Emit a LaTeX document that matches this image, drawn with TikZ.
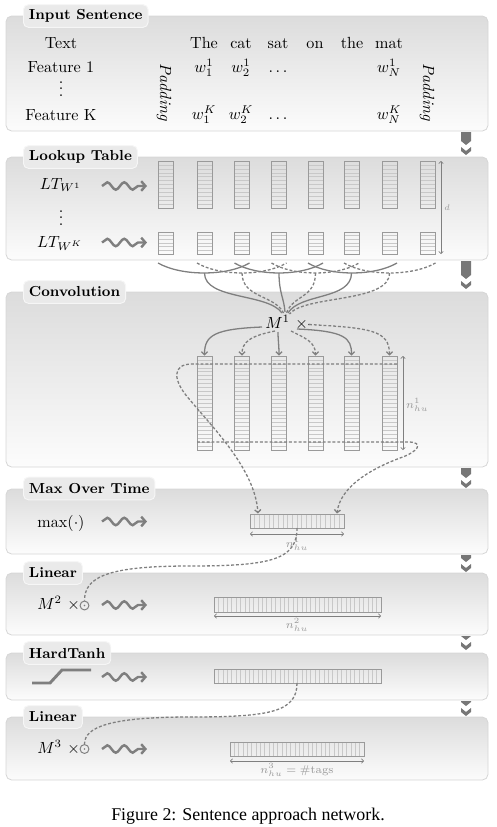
\documentclass[tikz,border=0pt]{standalone}
\usepackage{fontspec}
\newfontfamily\capfont{Liberation Serif}
\usetikzlibrary{decorations.pathmorphing,arrows.meta}
\definecolor{lgray}{HTML}{7F7F7F}
\definecolor{ggray}{HTML}{C8C8C8}
\definecolor{bgray}{HTML}{9A9A9A}
\definecolor{ptop}{HTML}{DCDCDC}
\definecolor{pbot}{HTML}{FCFCFC}
\definecolor{pborder}{HTML}{D6D6D6}
\definecolor{tfill}{HTML}{EAEAEA}
\definecolor{tborder}{HTML}{F6F6F6}
\definecolor{agray}{HTML}{777777}
\definecolor{labgray}{HTML}{9A9A9A}
\tikzset{
  panel/.style={draw=pborder, line width=0.5pt, rounded corners=3.5pt, top color=ptop, bottom color=pbot},
  tabnode/.style={draw=tborder, line width=0.6pt, fill=tfill, rounded corners=3pt, font=\small\bfseries, inner xsep=3.4pt, inner ysep=0pt, minimum height=14pt, anchor=west},
  txt/.style={inner sep=0pt},
  wavy/.style={draw=lgray, line width=1.5pt, decorate, decoration={snake, segment length=10.5pt, amplitude=2.3pt, post length=5.5pt}, -{Straight Barb[length=2.6pt,width=6pt]}},
  boxline/.style={draw=bgray, line width=0.5pt},
  gridline/.style={draw=ggray, line width=0.3pt},
  conn/.style={draw=lgray, line width=0.8pt},
  dconn/.style={conn, dash pattern=on 1.8pt off 1.2pt},
  tipped/.style={-{Straight Barb[length=1.8pt,width=3.8pt]}},
  dimline/.style={draw=lgray, line width=0.4pt, {Straight Barb[length=1.3pt,width=2.8pt]}-{Straight Barb[length=1.3pt,width=2.8pt]}},
  dimlab/.style={font=\scriptsize, text=labgray, inner sep=0.5pt},
  bigarrow/.style={fill=agray, draw=none},
  odot/.style={circle, draw=lgray, line width=0.6pt, minimum size=5.5pt, inner sep=0pt,
    path picture={\fill[lgray] (path picture bounding box.center) circle (0.6pt);}},
  htanh/.style={draw=lgray, line width=1.8pt},
}
\newcommand{\vcolumn}[4]{%
  \pgfmathsetmacro{\vst}{(#3-#2)/#4}%
  \pgfmathtruncatemacro{\vlast}{#4-1}%
  \foreach \k in {1,...,\vlast}{\draw[gridline] ({#1-7.5},{#2+\k*\vst}) -- ({#1+7.5},{#2+\k*\vst});}
  \draw[boxline] ({#1-7.5},#2) rectangle ({#1+7.5},#3);
}
\newcommand{\hcells}[5]{%
  \pgfmathsetmacro{\hst}{(#2-#1)/#5}%
  \pgfmathtruncatemacro{\hlast}{#5-1}%
  \foreach \k in {1,...,\hlast}{\draw[gridline] ({#1+\k*\hst},#3) -- ({#1+\k*\hst},#4);}
  \draw[boxline] (#1,#3) rectangle (#2,#4);
}
\newcommand{\bigdown}[2]{%
  \fill[bigarrow] (461,#1) -- (471,#1) -- (471,{#2-14}) -- (466,{#2-10}) -- (461,{#2-14}) -- cycle;
  \fill[bigarrow] (461,{#2-8}) -- (466,{#2-4}) -- (471,{#2-8}) -- (471,{#2-4}) -- (466,#2) -- (461,{#2-4}) -- cycle;
}
\begin{document}
\begin{tikzpicture}[x=0.62pt,y=-0.62pt]
\useasboundingbox (0,0) rectangle (496,827);
% ---------- panels ----------
\draw[panel] (6,16) rectangle (488,131);
\draw[panel] (6,157) rectangle (488,260);
\draw[panel] (6,292) rectangle (488,467);
\draw[panel] (6,489) rectangle (488,554);
\draw[panel] (6,573) rectangle (488,635);
\draw[panel] (6,653) rectangle (488,700);
\draw[panel] (6,717) rectangle (488,780);
% ---------- tabs ----------
\node[tabnode] (tab1) at (23,16) {Input Sentence};
\node[tabnode] (tab2) at (23,157) {Lookup Table};
\node[tabnode] (tab3) at (23,292) {Convolution};
\node[tabnode] (tab4) at (23,488.5) {Max Over Time};
\node[tabnode] (tab5) at (23,573) {Linear};
\node[tabnode] (tab6) at (23,653) {HardTanh};
\node[tabnode] (tab7) at (23,717) {Linear};
% ---------- big arrows ----------
\bigdown{132}{155}
\bigdown{261}{289}
\bigdown{468}{488}
\bigdown{555}{572}
\bigdown{636}{650}
\bigdown{701}{716}
% ---------- input sentence ----------
\node[txt, anchor=base] (ltext) at (61,48) {Text};
\node[txt, anchor=base] (lf1) at (61,72.5) {Feature 1};
\node[txt, anchor=base] (lvd1) at (61,96) {$\vdots$};
\node[txt, anchor=base] (lfk) at (61,120) {Feature K};
\node[txt, rotate=-90, font=\itshape] (pad1) at (164,92) {Padding};
\node[txt, rotate=-90, font=\itshape] (pad2) at (427,92) {Padding};
\foreach \wx/\wtext [count=\i] in {204/The,241/cat,278/sat,315/on,352/the,389/mat}
  \node[txt, anchor=base] (word\i) at (\wx,48) {\wtext};
\node[txt, anchor=base] (w11) at (204,72.5) {$w_1^1$};
\node[txt, anchor=base] (w21) at (241,72.5) {$w_2^1$};
\node[txt, anchor=base] (d1) at (278,72.5) {$\dots$};
\node[txt, anchor=base] (wN1) at (389,72.5) {$w_N^1$};
\node[txt, anchor=base] (w1K) at (204,119) {$w_1^K$};
\node[txt, anchor=base] (w2K) at (241,119) {$w_2^K$};
\node[txt, anchor=base] (dK) at (278,119) {$\dots$};
\node[txt, anchor=base] (wNK) at (389,119) {$w_N^K$};
% ---------- lookup table ----------
\node[txt, anchor=base] (lt1) at (60.5,189) {$LT_{W^1}$};
\node[txt, anchor=base] (lvd2) at (61,225) {$\vdots$};
\node[txt, anchor=base] (ltK) at (60,247) {$LT_{W^K}$};
\draw[wavy] (102,186) -- (147,186);
\draw[wavy] (102,242.5) -- (147,242.5);
\foreach \cx in {165.5,204.5,242,279,315.5,351.5,389.5,428}{
  \vcolumn{\cx}{161}{208}{12}
  \vcolumn{\cx}{232}{254}{6}
}
\coordinate (dtop) at (441,161);
\coordinate (dbot) at (441,254);
\draw[dimline] (dtop) -- (dbot);
\node[dimlab, font=\tiny, anchor=west] (dlab) at (443,208) {$d$};
% windows (arcs)
\foreach \L/\C/\R/\st in {158/204.5/249.5/conn, 197/242/286.5/dconn, 234.5/279/323/conn, 271.5/315.5/359/dconn, 308/351.5/397/conn, 344/389.5/435.5/dconn}{
  \draw[\st] (\L,263) .. controls ({(\L+\C)/2},276.3) and ({(\C+\R)/2},276.3) .. (\R,263);
}
% ---------- convolution ----------
\node[txt, anchor=base west] (M1) at (265,328) {$M^1\ \times$};
\coordinate (cdot) at (309,324.5);
\fill[black!75] (cdot) circle (0.55pt);
\coordinate (e2) at (282,313); \coordinate (e3) at (283.5,313);
\coordinate (e4) at (285,312); \coordinate (e5) at (286.5,313);
\coordinate (e6) at (288,313); \coordinate (e7) at (289.5,314);
\draw[conn]  (204.5,273) .. controls (204.5,300) and (268,293) .. (e2);
\draw[dconn] (242,273)   .. controls (242,298)   and (275,295) .. (e3);
\draw[conn]  (279,273)   .. controls (279,293)   and (284,298) .. (e4);
\draw[dconn] (315.5,273) .. controls (315.5,298) and (293,295) .. (e5);
\draw[conn]  (351.5,273) .. controls (351.5,300) and (300,293) .. (e6);
\draw[dconn] (389.5,273) .. controls (389.5,303) and (305,295) .. (e7);
% conv output columns
\foreach \cx [count=\i] in {204.5,242,279,315.5,351.5,389.5}{
  \vcolumn{\cx}{356}{450}{24}
  \coordinate (ct\i) at (\cx,355.5);
}
\draw[conn, tipped]  (262,327) .. controls (215,329) and (204.5,335) .. (ct1);
\draw[dconn, tipped] (275,331) .. controls (250,336) and (242,342) .. (ct2);
\draw[conn, tipped]  (278,332) .. controls (278,340) and (279,345) .. (ct3);
\draw[dconn, tipped] (291,331) .. controls (305,338) and (315.5,342) .. (ct4);
\draw[conn, tipped]  (297,329) .. controls (345,331) and (351.5,338) .. (ct5);
\draw[dconn, tipped] (cdot) .. controls (370,328) and (389.5,330) .. (ct6);
\coordinate (ntop) at (403,356);
\coordinate (nbot) at (403,450);
\draw[dimline] (ntop) -- (nbot);
\node[dimlab, anchor=west] (nlab1) at (405,405) {$n_{hu}^1$};
% ---------- max over time ----------
\node[txt, anchor=base] (maxl) at (61,527) {$\max(\cdot)$};
\draw[wavy] (102,521.5) -- (147,521.5);
\hcells{250}{344}{514}{528}{20}
\coordinate (mxa) at (258,513.5);
\coordinate (mxb) at (337,513.5);
\coordinate (mxbot) at (297,528);
\draw[dconn, tipped] (397,364) -- (192,364) .. controls (172,364) and (172,380) .. (190,400) .. controls (215,430) and (255,470) .. (mxa);
\draw[dconn, tipped] (197,442) -- (408,442) .. controls (425,442) and (418,452) .. (400,458) .. controls (368,470) and (340,488) .. (mxb);
\coordinate (mdl) at (250,534); \coordinate (mdr) at (344,534);
\draw[dimline] (mdl) -- (mdr);
\node[dimlab] (nlab2) at (297,544) {$n_{hu}^1$};
% ---------- linear 1 ----------
\node[txt, anchor=base west] (M2) at (37,609) {$M^2\ \times$};
\node[odot] (od2) at (84.5,605.5) {};
\draw[wavy] (102,605) -- (147,605);
\hcells{214}{381}{597}{612}{38}
\draw[dconn] (mxbot) .. controls (297,560) and (270,566) .. (190,566) .. controls (110,566) and (84.5,576) .. (od2.north);
\coordinate (ldl) at (214,616); \coordinate (ldr) at (381,616);
\draw[dimline] (ldl) -- (ldr);
\node[dimlab] (nlab3) at (297,625) {$n_{hu}^2$};
% ---------- hardtanh ----------
\coordinate (h1) at (32,683); \coordinate (h2) at (50,683);
\coordinate (h3) at (62,670); \coordinate (h4) at (91,670);
\draw[htanh] (h1) -- (h2) -- (h3) -- (h4);
\draw[wavy] (102,677) -- (147,677);
\hcells{214}{381}{669}{683}{38}
\coordinate (htbot) at (297,683);
% ---------- linear 2 ----------
\node[txt, anchor=base west] (M3) at (37,753) {$M^3\ \times$};
\node[odot] (od3) at (84.5,749) {};
\draw[wavy] (102,749) -- (147,749);
\hcells{230}{364}{742}{756}{31}
\draw[dconn] (htbot) .. controls (297,712) and (270,717) .. (190,717) .. controls (110,717) and (84.5,727) .. (od3.north);
\coordinate (l2dl) at (230,761); \coordinate (l2dr) at (364,761);
\draw[dimline] (l2dl) -- (l2dr);
\node[dimlab] (nlab4) at (297,770) {$n_{hu}^3 = \mbox{\#tags}$};
% ---------- caption ----------
\node[txt, anchor=base, font=\capfont\fontsize{11.1}{13}\selectfont] (cap) at (248,820.5) {Figure 2: Sentence approach network.};
\end{tikzpicture}
\end{document}
